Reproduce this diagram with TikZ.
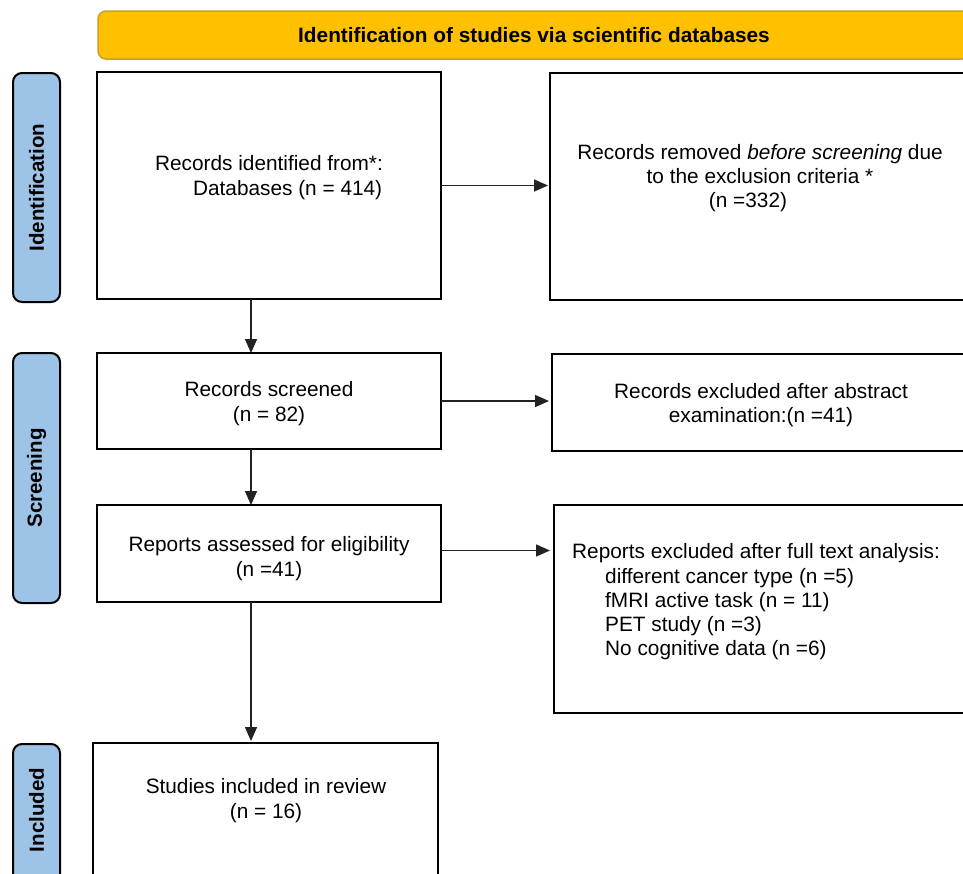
\documentclass[tikz,border=0pt]{standalone}
\usepackage{fontspec}
\setmainfont{Liberation Sans}
\usetikzlibrary{arrows.meta,calc}
\definecolor{banner}{HTML}{FFC000}
\definecolor{bannerline}{HTML}{C8A02A}
\definecolor{side}{HTML}{9DC3E6}
\definecolor{arrline}{HTML}{222222}
\tikzset{
  box/.style={draw=black,line width=2pt,fill=white,inner sep=0pt,outer sep=0pt},
  sidebox/.style={draw=black,line width=2pt,fill=side,rounded corners=9pt,inner sep=0pt,outer sep=0pt,minimum width=47pt},
  txt/.style={inner sep=0pt,align=center,font=\fontsize{20.8}{24.3}\selectfont},
  sidetxt/.style={inner sep=0pt,rotate=90,font=\fontsize{20.5}{24}\selectfont\bfseries},
  arr/.style={draw=arrline,line width=1.4pt,-{Triangle[length=14pt,width=12pt]}},
}
\begin{document}
\begin{tikzpicture}[x=1pt,y=-1pt]
\useasboundingbox (0,0) rectangle (963,873);
\clip (0,0) rectangle (963,873);
\fill[white] (0,0) rectangle (963,873);
% banner
\node[draw=bannerline,line width=1.5pt,fill=banner,rounded corners=8pt,minimum width=872pt,minimum height=48pt,inner sep=0pt] (ban) at (534,35) {};
\node[inner sep=0pt,font=\fontsize{20.8}{24}\selectfont\bfseries] (bant) at (534,35) {Identification of studies via scientific databases};
% side labels
\node[sidebox,minimum height=229pt] (s1) at (36.5,187.5) {};
\node[sidetxt] (s1t) at (s1) {Identification};
\node[sidebox,minimum height=250pt] (s2) at (36.5,478) {};
\node[sidetxt] (s2t) at (s2) {Screening};
\node[sidebox,minimum height=160pt] (s3) at (36.5,824) {};
\node[sidetxt] (s3t) at (36.5,810) {Included};
% boxes
\node[box,minimum width=344pt,minimum height=227pt] (b1) at (269,185.5) {};
\node[txt,align=left] (b1t) at (269,177.5) {Records identified from*:\\\hspace*{38pt}Databases (n = 414)};
\node[box,minimum width=420pt,minimum height=227pt] (b2) at (760,186.5) {};
\node[txt] (b2t) at (760,178) {Records removed \textit{before screening} due\\to the exclusion criteria *\\(n =332)\hspace*{24pt}};
\node[box,minimum width=344pt,minimum height=96pt] (b3) at (269,401) {};
\node[txt] (b3t) at (269,403.5) {Records screened\\(n = 82)};
\node[box,minimum width=418pt,minimum height=97pt] (b4) at (761,402.5) {};
\node[txt] (b4t) at (761,405) {Records excluded after abstract\\examination:(n =41)};
\node[box,minimum width=344pt,minimum height=97pt] (b5) at (269,553.5) {};
\node[txt] (b5t) at (269,558.5) {Reports assessed for eligibility\\(n =41)};
\node[box,minimum width=416pt,minimum height=208pt] (b6) at (762,609) {};
\node[txt,align=left,anchor=north west] (b6t) at (572,543.5) {Reports excluded after full text analysis:\\\hspace*{33pt}different cancer type (n =5)\\\hspace*{33pt}fMRI active task (n = 11)\\\hspace*{33pt}PET study (n =3)\\\hspace*{33pt}No cognitive data (n =6)};
\node[box,minimum width=345pt,minimum height=160pt] (b7) at (265.5,823) {};
\node[txt] (b7t) at (266,800.5) {Studies included in review\\(n = 16)};
% connectors
\coordinate (ax) at (251,0);
\draw[arr,shorten >=2pt] (b1.east) -- (b1.east -| b2.west);
\draw[arr,shorten >=3pt] (b3.east) -- (b3.east -| b4.west);
\draw[arr,shorten >=4pt] ([yshift=3pt]b5.east) -- ([yshift=3pt]b5.east -| b6.west);
\draw[arr] (b1.south -| ax) -- (b3.north -| ax);
\draw[arr] (b3.south -| ax) -- (b5.north -| ax);
\draw[arr,shorten >=2pt] (b5.south -| ax) -- (b7.north -| ax);
\end{tikzpicture}
\end{document}
